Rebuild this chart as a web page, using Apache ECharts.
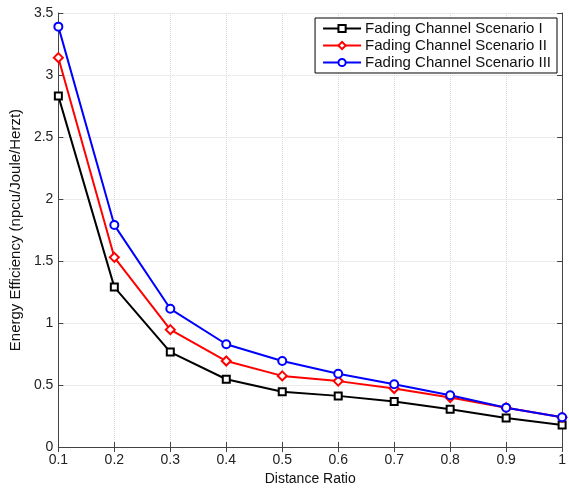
<!DOCTYPE html>
<html>
<head>
<meta charset="utf-8">
<script src="https://cdn.jsdelivr.net/npm/echarts@6/dist/echarts.min.js"></script>
<style>
  html, body { margin: 0; padding: 0; background: #fff; }
  #main { width: 569px; height: 491px; }
</style>
</head>
<body>
<div id="main"></div>
<script>
// distance ratio on x, energy efficiency on y
var distance = [0.1, 0.2, 0.3, 0.4, 0.5, 0.6, 0.7, 0.8, 0.9, 1.0];
var scenario1 = [2.83, 1.29, 0.766, 0.547, 0.447, 0.413, 0.368, 0.306, 0.235, 0.178];
var scenario2 = [3.14, 1.53, 0.947, 0.694, 0.574, 0.532, 0.472, 0.400, 0.318, 0.240];
var scenario3 = [3.39, 1.79, 1.115, 0.829, 0.694, 0.592, 0.507, 0.418, 0.318, 0.240];
var seriesNames = ['Fading Channel Scenario I', 'Fading Channel Scenario II', 'Fading Channel Scenario III'];

function pairs(ys) {
    return distance.map(function (x, i) { return [x, ys[i]]; });
}

var chart = echarts.init(document.getElementById('main'));
var font = 'Liberation Sans, Arial, sans-serif';
var axisColor = '#444';

function makeSeries(name, ys, color, symbol, size) {
    return {
        name: name,
        type: 'line',
        data: pairs(ys),
        symbol: symbol,
        symbolSize: size,
        showAllSymbol: true,
        lineStyle: { color: color, width: 2 },
        itemStyle: { color: '#fff', borderColor: color, borderWidth: 2 },
        emphasis: { disabled: true },
        z: 3
    };
}

var option = {
    backgroundColor: '#fff',
    animation: false,
    textStyle: { fontFamily: font },
    grid: { left: 58, right: 6, top: 13, bottom: 39, containLabel: false },
    legend: {
        data: seriesNames,
        orient: 'vertical',
        right: 12,
        top: 18,
        itemWidth: 38,
        itemHeight: 9,
        itemGap: 2,
        padding: [3, 6, 3, 7],
        borderColor: '#000',
        borderWidth: 1,
        backgroundColor: '#fff',
        textStyle: { fontFamily: font, fontSize: 15, color: '#111', padding: [0, 0, 0, -1] }
    },
    xAxis: [{
        type: 'value',
        min: 0.1,
        max: 1,
        interval: 0.1,
        name: 'Distance Ratio',
        nameLocation: 'middle',
        nameGap: 21,
        nameTextStyle: { fontFamily: font, fontSize: 14, color: '#111', verticalAlign: 'top' },
        axisLine: { show: true, lineStyle: { color: axisColor, width: 1 } },
        axisTick: { show: true, inside: true, length: 5, lineStyle: { color: axisColor } },
        axisLabel: {
            color: '#222', fontSize: 14, fontFamily: font, margin: 6,
            formatter: function (v) { return String(+v.toFixed(1)); }
        },
        splitLine: { show: true, lineStyle: { color: '#d8d8d8', type: 'dotted' } }
    }, {
        type: 'value',
        position: 'top',
        min: 0.1,
        max: 1,
        interval: 0.1,
        axisLine: { show: true, lineStyle: { color: axisColor, width: 1 } },
        axisTick: { show: true, inside: true, length: 5, lineStyle: { color: axisColor } },
        axisLabel: { show: false },
        splitLine: { show: false }
    }],
    yAxis: [{
        type: 'value',
        min: 0,
        max: 3.5,
        interval: 0.5,
        name: 'Energy Efficiency (npcu/Joule/Herzt)',
        nameLocation: 'middle',
        nameGap: 30,
        nameTextStyle: { fontFamily: font, fontSize: 15, color: '#111' },
        axisLine: { show: true, lineStyle: { color: axisColor, width: 1 } },
        axisTick: { show: true, inside: true, length: 5, lineStyle: { color: axisColor } },
        axisLabel: { color: '#222', fontSize: 14, fontFamily: font, margin: 5 },
        splitLine: { show: true, lineStyle: { color: '#d8d8d8', type: 'dotted' } }
    }, {
        type: 'value',
        position: 'right',
        min: 0,
        max: 3.5,
        interval: 0.5,
        axisLine: { show: true, lineStyle: { color: axisColor, width: 1 } },
        axisTick: { show: true, inside: true, length: 5, lineStyle: { color: axisColor } },
        axisLabel: { show: false },
        splitLine: { show: false }
    }],
    series: [
        makeSeries(seriesNames[0], scenario1, '#000000', 'rect', 7),
        makeSeries(seriesNames[1], scenario2, '#ff0000', 'diamond', 9),
        makeSeries(seriesNames[2], scenario3, '#0000ff', 'circle', 8)
    ]
};

chart.setOption(option);
</script>
</body>
</html>
